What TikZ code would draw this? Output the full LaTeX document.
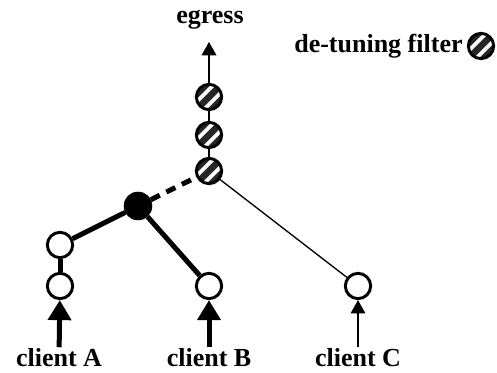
\documentclass[tikz,border=0pt]{standalone}
\usepackage{fontspec}
\setmainfont{Liberation Serif}
\usetikzlibrary{arrows.meta}
\usetikzlibrary{positioning}

\tikzset{
  host/.style={circle,draw,line width=2.2pt,fill=white,minimum size=19pt,inner sep=0pt},
  hub/.style={circle,draw,fill=black,minimum size=21pt,inner sep=0pt},
  filter/.style={circle,draw,line width=2.2pt,fill=black!85,minimum size=19pt,inner sep=0pt,
    path picture={
      \begin{scope}[shift={(path picture bounding box.center)}]
      \foreach \o in {-3.8,3.8}
        \draw[white,line width=2.8pt] (-\o-16,\o-16) -- (-\o+16,\o+16);
      \end{scope}}},
  lbl/.style={font=\fontsize{19.5}{22}\selectfont\bfseries,inner sep=1pt},
  fat/.style={line width=3.75pt},
  slim/.style={line width=1pt},
  bigtip/.style={-{Triangle[length=15pt,width=17pt]}},
  smalltip/.style={-{Triangle[length=10pt,width=11pt]}}
}

\begin{document}
\begin{tikzpicture}[line cap=butt,line join=miter,x=0.75pt,y=0.75pt]
\useasboundingbox (0,0) rectangle (497,373);
% filters on the way out
\node[filter] (f1) at (209,202) {};
\node[filter] (f2) at (209,238) {};
\node[filter] (f3) at (209,276) {};
\coordinate (top) at (209,331);
\node[lbl] (egress) at (210,353) {egress};
% tree
\node[hub] (hub) at (138,167) {};
\node[host] (a2) at (60,128) {};
\node[host] (a1) at (60,87) {};
\node[host] (b) at (209,87) {};
\node[host] (c) at (358,87) {};
% clients
\node[lbl] (ca) at (59,15) {client A};
\node[lbl] (cb) at (209,15) {client B};
\node[lbl] (cc) at (358,15) {client C};
% legend
\node[filter] (key) at (481,327) {};
\node[lbl,left=2pt of key] (keytext) {de-tuning filter};

\draw[fat] (hub) -- (a2);
\draw[fat] (a2) -- (a1);
\draw[fat] (hub) -- (b);
\draw[fat,dash pattern=on 7.5pt off 5.5pt] (hub) -- (f1);
\draw[slim] (f1) -- (c);
\draw[slim] (f1) -- (f2);
\draw[slim] (f2) -- (f3);
\draw[slim,smalltip] (f3) -- (top);
\draw[fat,bigtip] (ca) -- (a1);
\draw[fat,bigtip] (cb) -- (b);
\draw[slim,smalltip] (cc) -- (c);
\end{tikzpicture}
\end{document}
